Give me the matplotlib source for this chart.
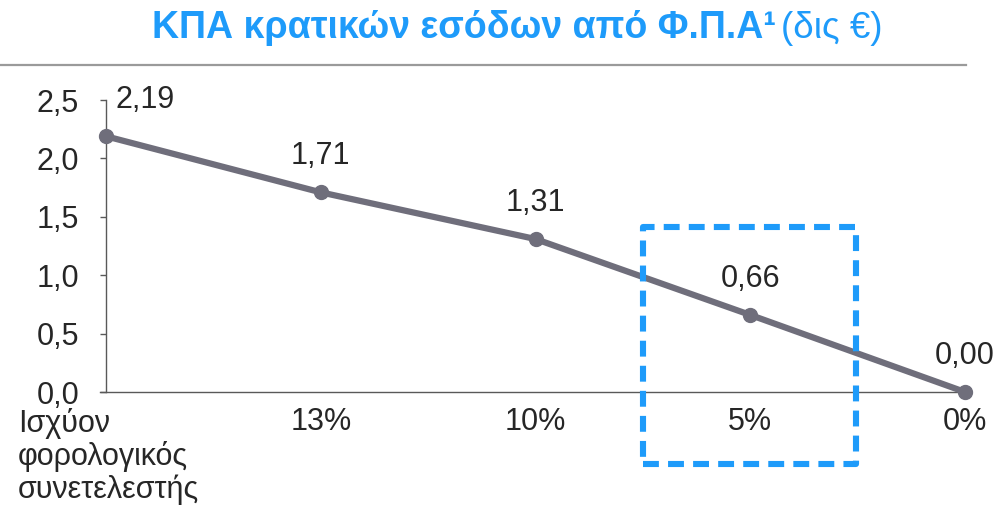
import numpy as np
import matplotlib
matplotlib.use("Agg")
from matplotlib import pyplot as plt
from matplotlib.patches import Rectangle

plt.rcParams['font.family'] = ['Liberation Sans', 'DejaVu Sans']

# données
categories = ["Ισχύον\nφορολογικός\nσυνετελεστής", "13%", "10%", "5%", "0%"]
revenue = [2.19, 1.71, 1.31, 0.66, 0.00]
y_ticks = [0.0, 0.5, 1.0, 1.5, 2.0, 2.5]

BLUE = "#1E9BFA"
LINE = "#6F6E7B"
TXT = "#262626"
AXC = "#595959"
FS = 22

fig = plt.figure(figsize=(9.97, 5.08), dpi=100)
ax = fig.add_axes([0.1063, 0.2283, 0.968 - 0.1063, 0.803 - 0.2283])

x = np.arange(len(revenue))
ax.plot(x, revenue, color=LINE, lw=4.5, marker="o", ms=10, zorder=3,
        solid_capstyle="round", clip_on=False)

# étiquettes de valeurs
for i, v in enumerate(revenue):
    lab = f"{v:.2f}".replace(".", ",")
    dx = 39 if i == 0 else 0
    ax.annotate(lab, (i, v), xytext=(dx, 36), textcoords="offset pixels",
                ha="center", va="center", fontsize=FS, color=TXT)

ax.set_xlim(0, len(revenue) - 1)
ax.set_ylim(0, 2.5)
ax.set_yticks(y_ticks)
ax.set_yticklabels([f"{t:.1f}".replace(".", ",") for t in y_ticks],
                   fontsize=FS, color=TXT)
ax.set_xticks(x[1:])
ax.set_xticklabels(categories[1:], fontsize=FS, color=TXT)
ax.tick_params(axis="x", length=0, pad=11)
ax.tick_params(axis="y", length=4.3, width=1, color=AXC, pad=15, direction="out")

# premier libellé à gauche, aligné à gauche sur plusieurs lignes
fig.text(18 / 997, 1 - 408 / 508, categories[0], ha="left", va="top",
         fontsize=FS, color=TXT, linespacing=1.1)

for s in ["top", "right"]:
    ax.spines[s].set_visible(False)
for s in ["left", "bottom"]:
    ax.spines[s].set_color(AXC)
    ax.spines[s].set_linewidth(1)
ax.spines["bottom"].set_bounds(-0.03, len(revenue) - 1)

# cadre pointillé autour de 5%
box = Rectangle((2.5, -0.62), 0.99, 2.03, fill=False, edgecolor=BLUE, lw=4.4,
                linestyle=(0, (2.6, 1.5)), joinstyle="round", clip_on=False,
                transform=ax.transData, zorder=4)
ax.add_patch(box)

# titre
fig.text(152 / 997, 1 - 28 / 508, "ΚΠΑ κρατικών εσόδων από Φ.Π.Α¹", ha="left",
         va="center", fontsize=27, fontweight="bold", color=BLUE)
fig.text(781 / 997, 1 - 28 / 508, "(δις €)", ha="left", va="center",
         fontsize=26.5, color=BLUE)
fig.add_artist(plt.Line2D([0, 966 / 997], [1 - 65 / 508] * 2, color="#9a9a9a",
                          lw=1.6, transform=fig.transFigure))

fig.savefig("out.png", dpi=100)
